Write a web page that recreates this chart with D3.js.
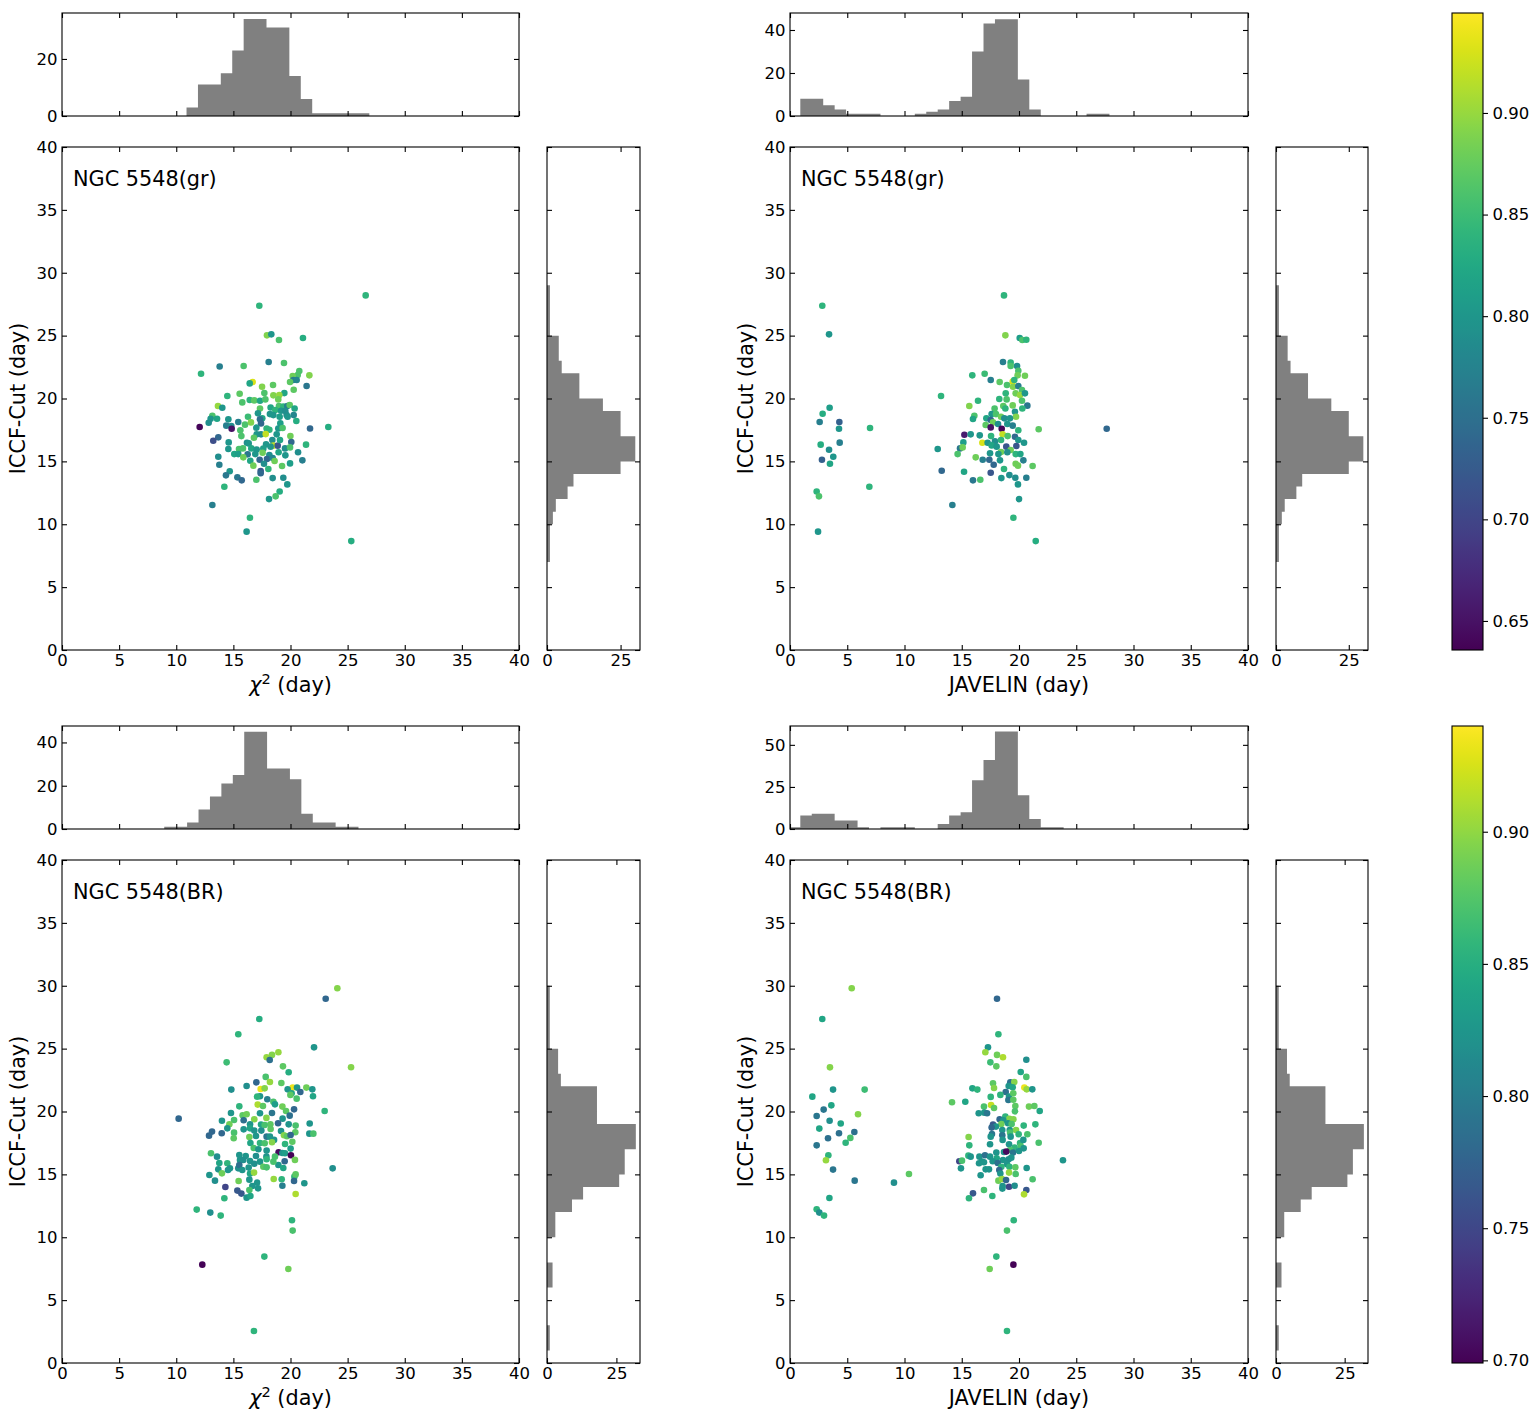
<!DOCTYPE html>
<html><head><meta charset="utf-8">
<script src="https://cdn.jsdelivr.net/npm/d3@7"></script>
<style>body{margin:0;background:#fff}</style>
</head><body>
<script>
// ---------------- DATA ----------------
// [lag x (day), ICCF-Cut (day), colour value]
const grChi2 = [[26.58,28.2,.84],[17.27,27.38,.84],[17.94,25.02,.89],[18.32,25.1,.80],[18.99,24.65,.86],[21.09,24.81,.83],[18.09,22.9,.77],[19.43,22.82,.86],[13.8,22.55,.77],[15.9,22.58,.86],[12.17,21.97,.84],[20.77,22.18,.86],[20.63,21.87,.86],[21.65,21.84,.89],[20.19,21.79,.88],[20.25,21.47,.77],[20.54,21.47,.78],[19.96,21.31,.87],[21.41,20.99,.76],[16.69,21.31,.93],[16.43,21.2,.82],[17.51,20.94,.89],[18.47,21.07,.87],[20.28,20.7,.87],[19.46,20.43,.82],[17.71,20.43,.86],[18.5,20.25,.89],[19.02,20.27,.9],[15.55,20.38,.87],[14.47,20.2,.84],[18.93,19.93,.88],[16.43,19.88,.84],[16.83,19.85,.87],[17.33,19.82,.82],[17.8,19.93,.86],[15.78,19.69,.86],[13.65,19.4,.9],[14.03,19.27,.8],[17.33,19.21,.87],[18.26,19.29,.82],[18.99,19.4,.86],[19.37,19.35,.84],[19.72,19.4,.77],[19.93,19.48,.87],[20.36,19.21,.82],[18.67,19.08,.84],[19.17,19.03,.8],[19.55,19.0,.79],[17.15,18.82,.8],[18.2,18.76,.8],[18.5,18.68,.8],[19.66,18.68,.79],[20.28,18.68,.78],[19.05,18.55,.81],[19.75,18.55,.8],[13.16,18.63,.86],[16.28,18.55,.85],[13.01,18.39,.8],[13.57,18.39,.82],[17.53,18.42,.82],[14.56,18.34,.8],[17.33,18.34,.75],[20.51,18.21,.83],[12.84,18.07,.79],[15.43,18.13,.77],[16.02,17.92,.86],[16.54,18.1,.89],[17.42,18.02,.74],[19.11,18.02,.81],[14.38,17.84,.77],[14.82,17.81,.79],[12.05,17.73,.64],[14.85,17.6,.65],[17.01,17.68,.8],[17.91,17.62,.84],[18.93,17.62,.8],[19.31,17.65,.86],[21.71,17.62,.74],[23.31,17.73,.83],[15.61,17.47,.86],[18.15,17.52,.84],[17.04,17.15,.8],[17.42,17.15,.79],[17.83,17.17,.92],[18.79,17.15,.8],[15.7,17.01,.86],[16.8,16.88,.87],[19.99,17.01,.88],[13.68,16.91,.74],[13.24,16.64,.71],[14.59,16.51,.8],[16.19,16.48,.79],[16.34,16.43,.8],[18.41,16.7,.79],[17.86,16.35,.8],[18.5,16.25,.92],[18.88,16.25,.72],[19.08,16.7,.82],[20.07,16.54,.74],[21.36,16.33,.84],[14.56,15.98,.8],[15.49,15.98,.86],[15.84,16.03,.86],[16.57,16.03,.82],[17.04,15.95,.8],[17.62,16.01,.81],[18.26,16.17,.8],[19.52,16.03,.79],[19.96,16.11,.86],[15.08,15.58,.82],[15.43,15.58,.81],[16.25,15.56,.76],[16.92,15.58,.8],[17.56,15.69,.88],[18.15,15.5,.79],[18.96,15.72,.82],[19.55,15.48,.8],[20.66,15.72,.79],[15.87,15.32,.88],[13.68,15.37,.79],[16.48,15.05,.82],[17.3,15.13,.74],[17.94,15.19,.74],[18.44,15.26,.78],[18.61,15.03,.88],[21.04,15.08,.77],[13.77,14.73,.77],[16.75,14.66,.88],[17.68,14.81,.79],[19.26,14.63,.87],[19.96,14.84,.81],[17.39,14.23,.72],[18.06,14.39,.84],[14.68,14.21,.8],[14.35,13.89,.76],[17.39,14.05,.74],[15.35,13.73,.76],[15.73,13.49,.74],[17.01,13.54,.86],[18.44,13.67,.79],[19.37,13.7,.79],[14.21,12.98,.84],[19.72,13.17,.8],[19.05,12.61,.83],[18.7,12.22,.86],[18.12,12.0,.8],[13.16,11.53,.77],[16.45,10.52,.84],[16.16,9.41,.8],[25.32,8.66,.83]];

const grJav = [[2.82,27.38,.84],[3.41,25.1,.8],[3.46,19.27,.81],[2.85,18.79,.83],[2.59,18.13,.77],[4.31,18.13,.73],[4.28,17.6,.8],[6.99,17.65,.84],[2.68,16.33,.83],[4.34,16.49,.77],[3.41,15.93,.79],[3.78,15.37,.8],[2.79,15.13,.73],[3.49,14.81,.82],[13.19,20.2,.84],[12.9,15.98,.8],[13.25,14.26,.74],[2.33,12.61,.84],[2.53,12.22,.86],[6.93,12.98,.84],[2.45,9.41,.8],[18.69,28.2,.84],[18.81,25.02,.89],[20.06,24.81,.81],[20.29,24.65,.86],[20.64,24.67,.84],[18.6,22.9,.77],[19.27,22.85,.84],[19.83,22.58,.79],[19.27,22.58,.86],[19.94,22.21,.86],[19.88,21.84,.88],[20.52,21.81,.88],[15.92,21.84,.84],[17.0,21.97,.85],[17.53,21.47,.77],[18.31,21.31,.87],[19.45,21.34,.93],[19.59,21.47,.84],[18.95,21.07,.86],[19.48,20.94,.89],[19.94,20.99,.77],[20.26,20.67,.86],[18.84,20.41,.84],[19.71,20.41,.88],[20.09,20.27,.9],[20.52,20.41,.8],[18.28,19.96,.84],[18.92,19.93,.86],[16.42,19.82,.84],[20.26,19.82,.86],[15.66,19.4,.89],[18.63,19.4,.87],[19.45,19.45,.88],[20.73,19.43,.76],[17.87,19.21,.86],[18.81,19.21,.84],[20.29,19.21,.84],[19.65,18.95,.8],[16.1,18.63,.86],[15.98,18.37,.82],[17.61,18.76,.8],[17.99,18.76,.86],[18.43,18.55,.88],[19.74,18.55,.89],[17.15,18.42,.82],[17.53,18.29,.74],[18.72,18.42,.79],[19.21,18.42,.8],[17.09,17.89,.87],[17.73,18.1,.88],[18.17,17.97,.79],[18.98,17.97,.8],[19.45,17.84,.77],[17.53,17.7,.65],[18.49,17.6,.64],[19.94,17.47,.84],[21.72,17.55,.87],[27.66,17.6,.74],[15.23,17.12,.66],[15.78,17.15,.8],[16.57,17.07,.8],[17.56,17.01,.84],[18.57,17.15,.92],[19.01,17.01,.86],[19.65,16.96,.74],[19.94,16.7,.8],[15.14,16.51,.81],[16.8,16.48,.93],[17.26,16.48,.8],[17.9,16.59,.79],[18.43,16.7,.84],[20.44,16.48,.8],[14.85,16.03,.76],[15.08,16.11,.88],[17.61,16.27,.82],[18.05,16.17,.8],[18.89,16.17,.72],[19.77,16.22,.72],[18.43,15.74,.88],[19.27,15.9,.88],[14.64,15.58,.86],[16.22,15.32,.88],[17.47,15.64,.8],[18.2,15.58,.8],[18.98,15.72,.79],[19.71,15.58,.84],[20.12,15.58,.82],[16.83,15.13,.77],[17.41,15.13,.74],[18.34,15.08,.8],[17.79,14.73,.74],[19.71,14.81,.88],[20.38,15.08,.77],[19.91,14.66,.88],[21.19,14.63,.87],[18.69,14.39,.84],[17.53,14.1,.72],[15.2,14.18,.82],[16.62,13.54,.86],[15.98,13.49,.76],[18.46,13.67,.8],[19.16,13.91,.79],[19.68,13.7,.79],[20.64,13.7,.77],[19.91,13.17,.8],[14.18,11.53,.77],[20.0,12.0,.8],[19.51,10.52,.84],[21.46,8.66,.83]];

const brChi2 = [[24.1,29.8,.895],[23.08,28.97,.779],[17.27,27.36,.848],[15.43,26.14,.856],[22.06,25.1,.825],[17.91,24.31,.902],[18.38,24.5,.895],[18.94,24.71,.902],[18.18,24.1,.787],[14.41,23.91,.864],[25.3,23.52,.895],[19.34,23.59,.879],[19.84,23.12,.848],[17.83,22.75,.871],[17.01,22.32,.779],[18.2,22.35,.902],[19.2,22.27,.879],[16.16,22.03,.818],[14.82,21.74,.818],[17.39,21.79,.933],[17.74,21.84,.895],[20.19,21.9,.933],[19.75,21.76,.825],[20.57,21.9,.825],[21.39,21.9,.887],[21.91,21.76,.825],[20.86,21.55,.779],[20.1,21.45,.841],[21.97,21.21,.841],[17.33,21.21,.825],[17.07,21.18,.856],[19.99,21.32,.879],[20.54,21.02,.871],[17.97,20.97,.802],[18.5,20.78,.871],[18.64,20.57,.833],[17.13,20.55,.91],[17.59,20.44,.879],[15.52,20.41,.856],[19.29,20.39,.887],[20.31,20.17,.779],[22.99,20.04,.856],[10.21,19.43,.779],[14.79,19.88,.825],[17.33,19.86,.825],[18.38,19.88,.794],[19.61,20.04,.879],[19.93,19.67,.787],[15.81,19.7,.879],[16.16,19.78,.887],[17.89,19.49,.895],[14.0,19.27,.825],[15.06,19.33,.871],[19.31,19.43,.825],[16.83,19.38,.895],[14.65,18.98,.887],[15.9,19.3,.787],[18.91,19.06,.779],[16.46,18.98,.825],[17.42,18.96,.841],[18.24,18.98,.879],[20.45,18.88,.871],[21.68,19.04,.825],[19.84,18.98,.825],[13.13,18.4,.779],[12.87,18.08,.779],[13.98,18.27,.779],[14.47,18.66,.825],[15.06,18.32,.871],[15.03,17.87,.879],[15.9,18.58,.825],[16.46,18.66,.841],[16.83,18.48,.825],[17.74,18.93,.871],[18.26,18.61,.879],[16.98,18.05,.825],[17.45,18.48,.818],[17.91,18.0,.794],[18.2,18.0,.825],[18.56,17.74,.825],[16.4,17.97,.887],[19.17,18.45,.825],[19.43,18.11,.895],[19.69,18.03,.879],[20.42,18.35,.879],[20.01,18.13,.779],[21.65,18.24,.825],[22.0,18.24,.871],[16.49,17.5,.841],[17.33,17.5,.856],[17.74,17.47,.871],[18.38,17.55,.895],[19.52,17.42,.856],[20.16,17.6,.879],[16.78,17.1,.871],[17.19,17.0,.825],[17.91,16.89,.825],[20.01,17.05,.833],[13.04,16.68,.871],[13.57,16.41,.818],[15.52,16.54,.825],[16.08,16.46,.825],[16.98,16.46,.818],[17.89,16.41,.825],[18.96,16.76,.705],[19.29,16.7,.825],[19.52,16.68,.833],[20.04,16.52,.70],[18.64,16.41,.871],[20.39,16.15,.887],[19.49,16.04,.779],[13.77,15.91,.841],[14.47,15.88,.856],[15.58,16.14,.825],[15.87,16.14,.818],[16.46,16.06,.825],[16.83,15.85,.818],[17.33,16.01,.825],[17.91,16.2,.856],[18.94,15.75,.825],[18.5,16.01,.871],[13.68,15.4,.825],[14.7,15.48,.825],[15.43,15.48,.818],[15.52,15.75,.787],[16.34,15.54,.825],[17.62,15.61,.879],[17.91,15.56,.871],[19.37,15.51,.841],[23.69,15.48,.818],[14.0,15.08,.887],[12.9,14.95,.825],[14.53,15.35,.825],[15.78,15.35,.825],[16.46,15.06,.841],[16.81,15.14,.902],[20.34,14.82,.856],[20.45,15.0,.879],[13.39,14.5,.818],[15.46,14.47,.887],[16.4,14.58,.825],[17.07,14.34,.825],[18.53,14.63,.902],[19.23,14.61,.856],[20.31,14.47,.779],[21.21,14.29,.825],[14.3,14.0,.748],[16.66,14.08,.825],[17.16,13.89,.825],[19.29,14.1,.802],[15.35,13.71,.764],[15.7,13.47,.764],[16.4,13.76,.871],[20.45,13.44,.91],[16.16,13.15,.825],[16.49,13.28,.841],[14.21,13.1,.856],[11.79,12.2,.856],[12.98,11.96,.818],[13.89,11.72,.856],[20.13,11.35,.856],[20.19,10.53,.871],[17.71,8.46,.856],[12.28,7.82,.70],[19.81,7.48,.887],[16.8,2.54,.856]];

const brJav = [[5.39,29.8,.895],[2.82,27.36,.841],[3.49,23.51,.895],[3.76,21.74,.825],[6.52,21.74,.864],[1.95,21.18,.841],[3.61,20.49,.841],[2.94,20.15,.794],[5.94,19.78,.895],[2.33,19.64,.794],[3.46,19.27,.818],[4.43,19.04,.841],[2.56,18.64,.841],[4.28,18.27,.787],[5.62,18.37,.787],[5.27,17.9,.871],[4.86,17.52,.856],[3.32,17.87,.787],[2.33,17.31,.794],[3.35,16.52,.856],[3.14,16.12,.902],[3.76,15.38,.794],[5.65,14.5,.794],[9.08,14.34,.818],[3.44,13.12,.841],[2.33,12.22,.856],[2.56,11.96,.818],[2.97,11.72,.856],[10.39,15.03,.879],[18.08,28.97,.779],[18.2,26.14,.856],[17.29,25.1,.825],[17.06,24.71,.902],[18.08,24.5,.887],[18.6,24.31,.91],[20.64,24.12,.818],[17.5,23.91,.864],[18.02,23.59,.879],[20.15,23.14,.841],[20.64,22.75,.871],[17.73,22.24,.879],[19.24,22.32,.787],[19.59,22.35,.895],[15.93,21.84,.841],[16.36,21.74,.856],[17.82,21.87,.895],[19.1,22.03,.825],[19.45,21.92,.841],[20.47,21.9,.933],[20.67,21.76,.902],[21.16,21.76,.825],[18.84,21.55,.787],[18.37,21.32,.856],[19.13,21.18,.825],[19.5,21.45,.879],[17.53,21.16,.856],[19.07,20.92,.794],[19.5,20.94,.879],[14.15,20.73,.879],[15.31,20.78,.841],[17.56,20.52,.918],[16.94,20.39,.871],[17.82,20.28,.879],[19.68,20.44,.879],[20.87,20.39,.887],[21.34,20.44,.879],[21.81,20.04,.841],[19.65,20.01,.871],[16.48,19.86,.825],[16.97,19.91,.825],[17.21,19.86,.794],[18.81,19.59,.856],[19.16,19.41,.895],[19.51,19.38,.895],[18.31,19.38,.779],[18.63,19.3,.825],[17.73,18.96,.764],[18.46,19.01,.887],[19.04,19.06,.825],[19.36,19.01,.871],[20.41,18.88,.856],[21.43,18.98,.856],[17.99,18.8,.825],[17.61,18.72,.779],[18.54,18.53,.825],[19.19,18.53,.825],[19.74,18.53,.895],[19.22,18.32,.871],[19.97,18.19,.856],[20.73,18.19,.871],[17.64,18.21,.794],[17.53,18.0,.825],[18.54,18.11,.794],[15.6,17.97,.895],[18.57,17.74,.825],[19.27,18.0,.825],[20.09,17.5,.856],[21.72,17.52,.871],[20.38,17.74,.825],[15.66,17.31,.856],[17.47,17.39,.825],[19.13,17.39,.825],[20.15,17.23,.871],[19.62,17.13,.856],[20.41,17.07,.825],[19.22,16.94,.871],[18.02,16.73,.825],[18.69,16.78,.825],[18.89,16.81,.705],[19.48,16.73,.794],[20.0,16.86,.825],[15.58,16.49,.856],[15.78,16.41,.825],[16.54,16.41,.825],[17.03,16.52,.787],[17.47,16.41,.825],[18.05,16.28,.841],[18.6,16.14,.825],[19.1,16.2,.818],[19.33,16.33,.825],[23.84,16.12,.825],[14.79,16.04,.748],[15.02,16.09,.871],[16.77,16.01,.825],[17.7,16.04,.825],[16.51,15.88,.825],[16.94,15.96,.825],[18.14,15.91,.787],[18.95,15.8,.825],[18.46,15.61,.856],[19.16,15.61,.856],[14.93,15.48,.825],[17.09,15.4,.825],[17.38,15.4,.825],[18.28,15.35,.779],[19.68,15.56,.879],[20.67,15.51,.825],[16.65,14.93,.825],[18.37,15.06,.825],[19.13,15.14,.902],[19.71,15.03,.871],[18.2,14.5,.887],[18.52,14.63,.902],[18.87,14.55,.779],[21.19,14.61,.871],[18.57,14.08,.825],[19.13,14.02,.748],[19.62,14.1,.818],[20.64,13.76,.764],[20.44,13.41,.91],[16.94,13.76,.871],[18.55,13.87,.825],[15.98,13.49,.764],[15.63,13.1,.856],[17.67,13.28,.856],[19.54,11.35,.856],[18.95,10.53,.871],[18.02,8.46,.856],[19.51,7.82,.70],[17.44,7.48,.887],[18.95,2.54,.856]];

// histograms of the x lags (top panels): first bin edge, bin width 1 day, counts
const grChi2HistStart = 10.9;
const grChi2HistCounts = [3,11,11,15,23,34,34,31,31,14,6,1,1,1,1,1];
const grJavHistStart = 0.9;
const grJavHistCounts = [8,8,5,3,1,1,1,0,0,0,1,2,3,7,9,30,43,45,45,17,3,0,0,0,0,1,1];
const brChi2HistStart = 8.95;
const brChi2HistCounts = [1,1,3,9,15,21,25,45,45,28,28,23,7,3,3,1,1];
const brJavHistStart = -0.1;
const brJavHistCounts = [1,8,9,9,5,5,1,0,1,1,1,0,0,3,8,10,29,41,58,58,20,6,1,1];
// histograms of ICCF-Cut (right panels), first bin edge, width 1 day
const grCutHistStart = 7;
const grCutHistCounts = [1,1,1,2,3,7,9,25,30,30,25,25,19,11,11,5,4,4,1,1,1,1];
const brCutHistStart = 1;
const brCutHistCounts = [1,1,0,0,0,2,2,0,0,3,3,9,13,26,28,28,32,32,18,18,18,5,4,4,1,1,1,1,1];

// axis extents / ticks
const mainTicks = [0,5,10,15,20,25,30,35,40];
const topHistMax = [36.1, 47.9, 47.6, 61.2];
const topHistTicks = [[0,20],[0,20,40],[0,20,40],[0,25,50]];
const rightHistMax = [31.6, 33.5];
const rightHistTicks = [0,25];
const colorRange = [[0.6357,0.9492],[0.699,0.940]];
const colorTicks = [[0.65,0.70,0.75,0.80,0.85,0.90],[0.70,0.75,0.80,0.85,0.90]];
const titles = ['NGC 5548(gr)','NGC 5548(gr)','NGC 5548(BR)','NGC 5548(BR)'];

// ---------------- LAYOUT ----------------
const W=1539, H=1426, TL=5, FS=16.5, LFS=20.8;
const colGeom=[{x0:62,x1:519,rx0:547,rx1:640,ylx:18},{x0:790,x1:1248,rx0:1276,rx1:1368,ylx:746}];
const rowGeom=[{hy0:13,hy1:116,my0:147,my1:650},{hy0:726,hy1:829,my0:860,my1:1363}];
const cb={x0:1452,x1:1483};

const svg=d3.select('body').append('svg').attr('width',W).attr('height',H)
  .style('font-family','"DejaVu Sans", sans-serif');
const defs=svg.append('defs');

function styleAxis(sel){
  sel.select('.domain').remove();
  sel.attr('font-size',FS).attr('font-family','"DejaVu Sans", sans-serif');
  sel.selectAll('line').attr('stroke','#000').attr('stroke-width',1.1);
  sel.selectAll('text').attr('fill','#000');
}
function box(x0,y0,x1,y1,xs,xt,ys,yt,showX,showY,fmtX,fmtY){
  svg.append('g').attr('transform',`translate(0,${y1})`)
    .call(d3.axisBottom(xs).tickValues(xt).tickSize(-TL).tickPadding(4.5).tickFormat(showX?fmtX:()=>''))
    .call(styleAxis);
  svg.append('g').attr('transform',`translate(0,${y0})`)
    .call(d3.axisTop(xs).tickValues(xt).tickSize(-TL).tickFormat(()=>'')).call(styleAxis);
  svg.append('g').attr('transform',`translate(${x0},0)`)
    .call(d3.axisLeft(ys).tickValues(yt).tickSize(-TL).tickPadding(4.5).tickFormat(showY?fmtY:()=>''))
    .call(styleAxis);
  svg.append('g').attr('transform',`translate(${x1},0)`)
    .call(d3.axisRight(ys).tickValues(yt).tickSize(-TL).tickFormat(()=>'')).call(styleAxis);
  svg.append('rect').attr('x',x0).attr('y',y0).attr('width',x1-x0).attr('height',y1-y0)
    .attr('fill','none').attr('stroke','#000').attr('stroke-width',1.1);
}
let clipN=0;
function clip(x0,y0,x1,y1){
  const id='c'+(clipN++);
  defs.append('clipPath').attr('id',id).append('rect').attr('x',x0).attr('y',y0).attr('width',x1-x0).attr('height',y1-y0);
  return `url(#${id})`;
}
const fmtI=d3.format('d');

const panels=[
 {row:0,col:0,pts:grChi2,hs:grChi2HistStart,hc:grChi2HistCounts,rs:grCutHistStart,rc:grCutHistCounts,xl:'chi'},
 {row:0,col:1,pts:grJav,hs:grJavHistStart,hc:grJavHistCounts,rs:grCutHistStart,rc:grCutHistCounts,xl:'JAVELIN (day)'},
 {row:1,col:0,pts:brChi2,hs:brChi2HistStart,hc:brChi2HistCounts,rs:brCutHistStart,rc:brCutHistCounts,xl:'chi'},
 {row:1,col:1,pts:brJav,hs:brJavHistStart,hc:brJavHistCounts,rs:brCutHistStart,rc:brCutHistCounts,xl:'JAVELIN (day)'}
];

panels.forEach((p,i)=>{
  const c=colGeom[p.col], r=rowGeom[p.row];
  const x=d3.scaleLinear().domain([0,40]).range([c.x0,c.x1]);
  const y=d3.scaleLinear().domain([0,40]).range([r.my1,r.my0]);
  const col=d3.scaleSequential(d3.interpolateViridis).domain(colorRange[p.row]);

  // top histogram
  const yh=d3.scaleLinear().domain([0,topHistMax[i]]).range([r.hy1,r.hy0]);
  let d='';
  p.hc.forEach((n,k)=>{ if(!n) return;
    const lo=p.hs+k, hi=lo+1;
    const xa=x(lo), xb=x(hi), ya=yh(n), yb=yh(0);
    d+=`M${xa},${yb}L${xa},${ya}L${xb},${ya}L${xb},${yb}Z`; });
  svg.append('path').attr('d',d).attr('fill','#808080').attr('clip-path',clip(c.x0,r.hy0,c.x1,r.hy1));
  box(c.x0,r.hy0,c.x1,r.hy1,x,mainTicks,yh,topHistTicks[i],false,true,fmtI,fmtI);

  // right histogram
  const xr=d3.scaleLinear().domain([0,rightHistMax[p.row]]).range([c.rx0,c.rx1]);
  let d2='';
  p.rc.forEach((n,k)=>{ if(!n) return;
    const lo=p.rs+k, hi=lo+1;
    const ya=y(hi), yb=y(lo), xa=xr(0), xb=xr(n);
    d2+=`M${xa},${yb}L${xa},${ya}L${xb},${ya}L${xb},${yb}Z`; });
  svg.append('path').attr('d',d2).attr('fill','#808080').attr('clip-path',clip(c.rx0,r.my0,c.rx1,r.my1));
  box(c.rx0,r.my0,c.rx1,r.my1,xr,rightHistTicks,y,mainTicks,true,false,fmtI,fmtI);

  // scatter
  svg.append('g').selectAll('circle').data(p.pts).join('circle')
    .attr('cx',d=>x(d[0])).attr('cy',d=>y(d[1])).attr('r',3.3).attr('fill',d=>col(d[2]));
  box(c.x0,r.my0,c.x1,r.my1,x,mainTicks,y,mainTicks,true,true,fmtI,fmtI);

  // texts
  svg.append('text').attr('x',c.x0+11).attr('y',r.my0+39).attr('font-size',LFS).text(titles[i]);
  const xt=svg.append('text').attr('x',(c.x0+c.x1)/2).attr('y',r.my1+42).attr('text-anchor','middle').attr('font-size',LFS);
  if(p.xl==='chi'){
    xt.append('tspan').attr('font-style','italic').text('χ');
    xt.append('tspan').attr('font-size',LFS*0.7).attr('dy',-8).text('2');
    xt.append('tspan').attr('dy',8).text(' (day)');
  } else xt.text(p.xl);
  svg.append('text').attr('transform',`translate(${c.ylx},${(r.my0+r.my1)/2}) rotate(-90)`)
    .attr('text-anchor','middle').attr('dy','0.35em').attr('font-size',LFS).text('ICCF-Cut (day)');
});

// colorbars
rowGeom.forEach((r,ri)=>{
  const [lo,hi]=colorRange[ri];
  const id='grad'+ri;
  const g=defs.append('linearGradient').attr('id',id).attr('x1',0).attr('y1',1).attr('x2',0).attr('y2',0);
  d3.range(0,1.0001,0.02).forEach(t=>g.append('stop').attr('offset',t).attr('stop-color',d3.interpolateViridis(t)));
  svg.append('rect').attr('x',cb.x0).attr('y',r.hy0).attr('width',cb.x1-cb.x0).attr('height',r.my1-r.hy0).attr('fill',`url(#${id})`);
  const s=d3.scaleLinear().domain([lo,hi]).range([r.my1,r.hy0]);
  svg.append('g').attr('transform',`translate(${cb.x1},0)`)
    .call(d3.axisRight(s).tickValues(colorTicks[ri]).tickSize(TL).tickPadding(4.5).tickFormat(d3.format('.2f')))
    .call(styleAxis);
  svg.append('rect').attr('x',cb.x0).attr('y',r.hy0).attr('width',cb.x1-cb.x0).attr('height',r.my1-r.hy0)
    .attr('fill','none').attr('stroke','#000').attr('stroke-width',1.1);
});
</script>
</body></html>
